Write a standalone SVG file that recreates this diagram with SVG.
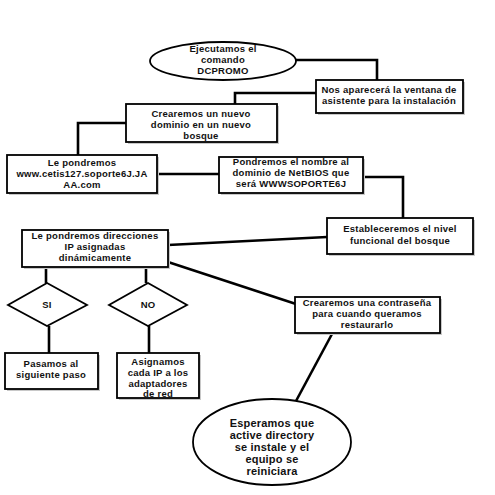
<svg xmlns="http://www.w3.org/2000/svg" width="495" height="495" viewBox="0 0 495 495">
<style>
.b{fill:#fff;stroke:#000;stroke-width:1.8}
.s{fill:#c8c8c8;stroke:none}
.c{fill:none;stroke:#000;stroke-width:2.6;stroke-linejoin:miter}
text{font-family:"Liberation Sans",Arial,sans-serif;font-weight:bold;font-size:9.5px;letter-spacing:0.25px;fill:#111;text-anchor:middle}
.big{font-size:11px;letter-spacing:0.2px}
</style>
<rect width="495" height="495" fill="#fff"/>
<g id="connectors">
<path class="c" d="M296,60 H377 V81"/>
<path class="c" d="M317,93 H235 V104"/>
<path class="c" d="M126,123 H78 V155"/>
<path class="c" d="M157,174 H219"/>
<path class="c" d="M363,177 H403 V218"/>
<path class="c" d="M327,237 L168,245"/>
<path class="c" d="M168,262 L296,304"/>
<path class="c" d="M46,268 V283"/>
<path class="c" d="M146,268 V283"/>
<path class="c" d="M49,326 V353"/>
<path class="c" d="M149,326 V353"/>
<path class="c" d="M332,334 L296,401"/>
</g>
<g id="n1">
<ellipse class="b" cx="223" cy="61" rx="73" ry="19"/>
<text x="223" y="52">Ejecutamos el</text>
<text x="223" y="63">comando</text>
<text x="223" y="74">DCPROMO</text>
</g>
<g id="n2">
<rect class="s" x="318" y="82" width="147" height="33"/>
<rect class="b" x="316" y="80" width="147" height="33"/>
<text x="389" y="93">Nos aparecerá la ventana de</text>
<text x="389" y="104">asistente para la instalación</text>
</g>
<g id="n3">
<rect class="s" x="128" y="106" width="151" height="38"/>
<rect class="b" x="126" y="104" width="151" height="38"/>
<text x="201" y="117">Crearemos un nuevo</text>
<text x="201" y="128">dominio en un nuevo</text>
<text x="201" y="139">bosque</text>
</g>
<g id="n4">
<rect class="s" x="9" y="157" width="150" height="38"/>
<rect class="b" x="7" y="155" width="150" height="38"/>
<text x="82" y="166">Le pondremos</text>
<text x="82" y="177">www.cetis127.soporte6J.JA</text>
<text x="82" y="188">AA.com</text>
</g>
<g id="n5">
<rect class="s" x="221" y="159" width="144" height="36"/>
<rect class="b" x="219" y="157" width="144" height="36"/>
<text x="291" y="165">Pondremos el nombre al</text>
<text x="291" y="176">dominio de NetBIOS que</text>
<text x="291" y="187">será WWWSOPORTE6J</text>
</g>
<g id="n6">
<rect class="s" x="329" y="220" width="146" height="36"/>
<rect class="b" x="327" y="218" width="146" height="36"/>
<text x="400" y="232">Estableceremos el nivel</text>
<text x="400" y="244">funcional del bosque</text>
</g>
<g id="n7">
<rect class="s" x="24" y="232" width="146" height="37"/>
<rect class="b" x="22" y="230" width="146" height="37"/>
<text x="95" y="239">Le pondremos direcciones</text>
<text x="95" y="250">IP asignadas</text>
<text x="95" y="261">dinámicamente</text>
</g>
<g id="n8">
<polygon class="b" points="47,283 87,305 47,326 8,305"/>
<text x="47" y="308">SI</text>
</g>
<g id="n9">
<polygon class="b" points="148,283 187,305 148,326 109,305"/>
<text x="148" y="308">NO</text>
</g>
<g id="n10">
<rect class="s" x="7" y="355" width="93" height="36"/>
<rect class="b" x="5" y="353" width="93" height="36"/>
<text x="51" y="367">Pasamos al</text>
<text x="51" y="378">siguiente paso</text>
</g>
<g id="n11">
<rect class="s" x="119" y="355" width="82" height="45"/>
<rect class="b" x="117" y="353" width="82" height="45"/>
<text x="158" y="365">Asignamos</text>
<text x="158" y="376">cada IP a los</text>
<text x="158" y="387">adaptadores</text>
<text x="158" y="397">de red</text>
</g>
<g id="n12">
<rect class="s" x="297" y="299" width="145" height="36"/>
<rect class="b" x="295" y="297" width="145" height="36"/>
<text x="367" y="306">Crearemos una contraseña</text>
<text x="367" y="317">para cuando queramos</text>
<text x="367" y="328">restaurarlo</text>
</g>
<g id="n13">
<ellipse class="b" cx="272" cy="442" rx="79" ry="43"/>
<text class="big" x="272" y="427">Esperamos que</text>
<text class="big" x="272" y="439">active directory</text>
<text class="big" x="272" y="451">se instale y el</text>
<text class="big" x="272" y="463">equipo se</text>
<text class="big" x="272" y="475">reiniciara</text>
</g>
</svg>
